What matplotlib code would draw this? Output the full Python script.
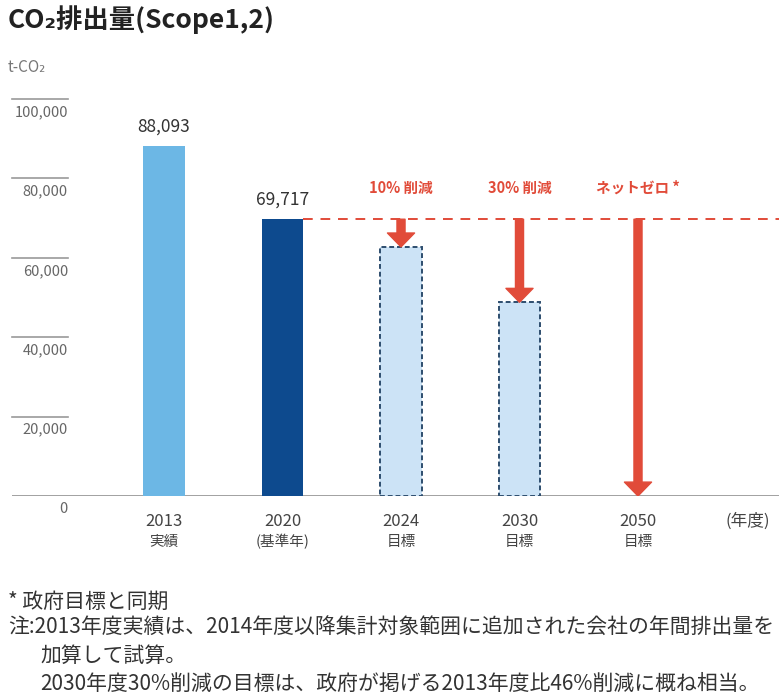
import numpy as np
import matplotlib
matplotlib.use("Agg")
import matplotlib.pyplot as plt
from matplotlib.patches import FancyArrowPatch
import matplotlib.transforms as mtrans

plt.rcParams['font.family'] = ['Noto Sans CJK JP', 'DejaVu Sans']

# data
years = ['2013', '2020', '2024', '2030', '2050']
sublabels = ['実績', '(基準年)', '目標', '目標', '目標']
actual = [88093, 69717]          # 2013, 2020
targets = [62745, 48802, 0]      # 2024, 2030, 2050
target_labels = ['10% 削減', '30% 削減', 'ネットゼロ *']
yticks = [0, 20000, 40000, 60000, 80000, 100000]
ytick_labels = ['0', '20,000', '40,000', '60,000', '80,000', '100,000']
notes = ['* 政府目標と同期',
         '注:2013年度実績は、2014年度以降集計対象範囲に追加された会社の年間排出量を',
         '加算して試算。',
         '2030年度30%削減の目標は、政府が掲げる2013年度比46%削減に概ね相当。']

W, H = 779, 694
fig = plt.figure(figsize=(W / 100, H / 100), dpi=100)
fig.patch.set_facecolor('white')

def fx(x):
    return x / W

def fy(y):
    return 1 - y / H

ax = fig.add_axes([fx(12), fy(496), (W - 12) / W, (496 - 99) / H])
ax.set_xlim(-1.283, 5.19)
ax.set_ylim(0, 100000)
for s in ax.spines.values():
    s.set_visible(False)
ax.set_xticks([])
ax.set_yticks([])

red = '#e14b39'
bw = 0.354
x = np.arange(len(years))

# actual bars
ax.bar(x[:2], actual, width=bw, color=['#6cb7e5', '#0d4a8e'], zorder=2)
for xi, v in zip(x[:2], actual):
    ax.annotate(f'{v:,}', xy=(xi, v), xytext=(0, 14), textcoords='offset points',
                ha='center', va='center', fontsize=12.5, color='#333333')

# target bars (dashed outline)
ax.bar(x[2:4], targets[:2], width=bw, color='#cce3f6', edgecolor='#2d4d6e',
       linestyle=(0, (2.5, 1.5)), linewidth=1.4, zorder=2)

# reference dashed line at 2020 level
ax.plot([x[1] + bw / 2, 5.19], [actual[1], actual[1]], color=red, lw=1.4,
        ls=(0, (5, 4)), zorder=3)

# reduction arrows
for xi, t in zip(x[2:], targets):
    arr = FancyArrowPatch((xi, actual[1]), (xi, t),
                          arrowstyle='simple,head_width=1.95,head_length=1.0,tail_width=0.58',
                          mutation_scale=10, color=red, shrinkA=0, shrinkB=0, zorder=4)
    ax.add_patch(arr)

blend = mtrans.blended_transform_factory(ax.transData, ax.transAxes)
for xi, lab in zip(x[2:], target_labels):
    ax.text(xi, (496 - 188) / 397, lab, transform=blend, ha='center', va='center',
            fontsize=10.5, fontweight='bold', color=red)

# baseline
ax.axhline(0, color='#9a9a9a', lw=1.3, zorder=1)

# short y gridlines and labels
blend_y = mtrans.blended_transform_factory(ax.transAxes, ax.transData)
for v, lab in zip(yticks, ytick_labels):
    if v > 0:
        ax.plot([0, 0.073], [v, v], color='#9a9a9a', lw=1.2, transform=blend_y,
                clip_on=False)
    ax.annotate(lab, xy=(0.073, v), xycoords=blend_y, xytext=(0, -9.5),
                textcoords='offset points', ha='right', va='center',
                fontsize=10.5, color='#666666', annotation_clip=False)

# category labels
for xi, yr, sub in zip(x, years, sublabels):
    ax.text(xi, (496 - 521) / 397, yr, transform=blend, ha='center', va='center',
            fontsize=12, color='#444444', clip_on=False)
    ax.text(xi, (496 - 542) / 397, sub, transform=blend, ha='center', va='center',
            fontsize=10.5, color='#444444', clip_on=False)
ax.text((748 - 164) / 118.5, (496 - 521) / 397, '(年度)', transform=blend,
        ha='center', va='center', fontsize=12, color='#444444', clip_on=False)

# title and unit
fig.text(fx(8), fy(20), 'CO₂排出量(Scope1,2)', ha='left', va='center',
         fontsize=19, fontweight='bold', color='#222222')
fig.text(fx(8), fy(67), 't-CO₂', ha='left', va='center', fontsize=11,
         color='#777777')

# footnotes
note_pos = [(8, 602), (8, 627), (40, 656), (40, 684)]
for (nx, ny), t in zip(note_pos, notes):
    fig.text(fx(nx), fy(ny), t, ha='left', va='center', fontsize=15,
             color='#333333')

fig.savefig('out.png', dpi=100, facecolor='white')
